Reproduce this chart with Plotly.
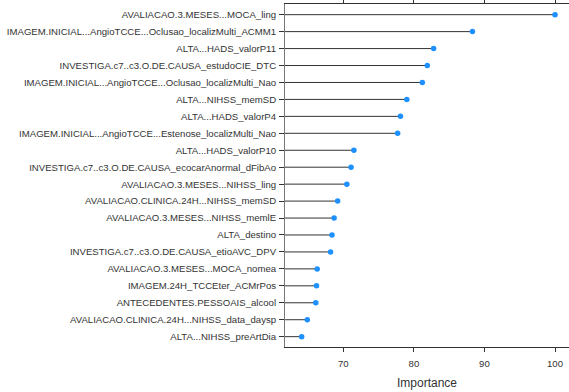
import plotly.graph_objects as go

variables = [
    "AVALIACAO.3.MESES...MOCA_ling",
    "IMAGEM.INICIAL...AngioTCCE...Oclusao_localizMulti_ACMM1",
    "ALTA...HADS_valorP11",
    "INVESTIGA.c7..c3.O.DE.CAUSA_estudoCIE_DTC",
    "IMAGEM.INICIAL...AngioTCCE...Oclusao_localizMulti_Nao",
    "ALTA...NIHSS_memSD",
    "ALTA...HADS_valorP4",
    "IMAGEM.INICIAL...AngioTCCE...Estenose_localizMulti_Nao",
    "ALTA...HADS_valorP10",
    "INVESTIGA.c7..c3.O.DE.CAUSA_ecocarAnormal_dFibAo",
    "AVALIACAO.3.MESES...NIHSS_ling",
    "AVALIACAO.CLINICA.24H...NIHSS_memSD",
    "AVALIACAO.3.MESES...NIHSS_memlE",
    "ALTA_destino",
    "INVESTIGA.c7..c3.O.DE.CAUSA_etioAVC_DPV",
    "AVALIACAO.3.MESES...MOCA_nomea",
    "IMAGEM.24H_TCCEter_ACMrPos",
    "ANTECEDENTES.PESSOAIS_alcool",
    "AVALIACAO.CLINICA.24H...NIHSS_data_daysp",
    "ALTA...NIHSS_preArtDia",
]
importance = [100.0, 88.3, 82.8, 81.9, 81.2, 79.0, 78.1, 77.7, 71.5, 71.1,
              70.5, 69.2, 68.7, 68.4, 68.2, 66.3, 66.2, 66.1, 64.9, 64.1]

x_range = [61.74, 101.98]
tick_vals = [70, 80, 90, 100]

# plot bottom-to-top so the most important is at the top
vars_r = variables[::-1]
imp_r = importance[::-1]

lx, ly = [], []
for v, val in zip(vars_r, imp_r):
    lx += [x_range[0], val, None]
    ly += [v, v, None]

fig = go.Figure()
fig.add_trace(go.Scatter(x=lx, y=ly, mode="lines",
                         line=dict(color="#333333", width=1),
                         hoverinfo="skip", showlegend=False, cliponaxis=False))
fig.add_trace(go.Scatter(x=imp_r, y=vars_r, mode="markers",
                         marker=dict(color="#1E90FF", size=5.5),
                         showlegend=False, cliponaxis=False))

fig.update_layout(
    width=569, height=392,
    margin=dict(l=285, r=0, t=4, b=45, autoexpand=False),
    paper_bgcolor="white", plot_bgcolor="white",
    font=dict(family="Liberation Sans, Arial, sans-serif", size=9.6, color="#333333"),
    xaxis=dict(range=x_range, tickvals=tick_vals, ticks="outside", ticklen=4,
               tickcolor="#333333", showline=True, linecolor="#333333", linewidth=1,
               mirror="ticks", showgrid=False, zeroline=False, automargin=False,
               ticklabelstandoff=3,
               title=dict(text="Importance", font=dict(size=12), standoff=11)),
    yaxis=dict(type="category", categoryorder="array", categoryarray=vars_r,
               range=[-0.61, 19.63], ticks="outside", ticklen=5, tickcolor="#333333",
               showline=True, linecolor="#777777", linewidth=1, automargin=False,
               showgrid=False, zeroline=False, ticklabelstandoff=1),
)

fig.write_html("out.html", config={"displayModeBar": False},
               post_script="document.body.style.margin='0';")
